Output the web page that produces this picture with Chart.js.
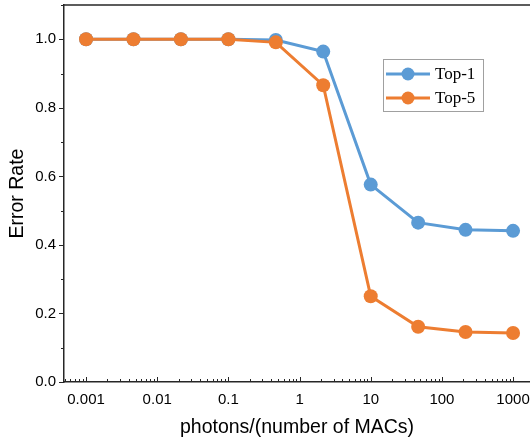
<!DOCTYPE html>
<html>
<head>
<meta charset="utf-8">
<script src="https://cdn.jsdelivr.net/npm/chart.js@4"></script>
<style>
html, body { margin: 0; padding: 0; background: #fff; }
#wrap { width: 530px; height: 442px; }
</style>
</head>
<body>
<div id="wrap"><canvas id="chart" width="530" height="442"></canvas></div>
<script>
// photons per MAC (x) and error rates
const photons = [0.001, 0.00464, 0.0215, 0.1, 0.464, 2.15, 10, 46.4, 215, 1000];
const top1 = [1.0, 1.0, 1.0, 1.0, 0.998, 0.964, 0.576, 0.465, 0.444, 0.441];
const top5 = [1.0, 1.0, 1.0, 1.0, 0.991, 0.866, 0.250, 0.161, 0.146, 0.143];
const seriesNames = ['Top-1', 'Top-5'];
const xTicks = [0.001, 0.01, 0.1, 1, 10, 100, 1000];
const yTicks = [0, 0.2, 0.4, 0.6, 0.8, 1.0];

const BLUE = '#5b9bd5';
const ORANGE = '#ed7d31';
const AXIS = '#262626';

function toPoints(ys) {
    return photons.map((x, i) => ({x: x, y: ys[i]}));
}

// ticks: x ones point into the plot, y ones point out, minor ones shorter
const tickMarks = {
    id: 'tickMarks',
    afterDraw(chart) {
        const {ctx, scales: {x, y}} = chart;
        ctx.save();
        ctx.strokeStyle = AXIS;
        ctx.lineWidth = 1;
        ctx.beginPath();
        for (let e = -4; e <= 3; e++) {
            for (let k = 1; k <= 9; k++) {
                const v = k * Math.pow(10, e);
                if (v < x.min || v > x.max) continue;
                const px = Math.round(x.getPixelForValue(v)) + 0.5;
                const len = k === 1 ? 5 : 3;
                ctx.moveTo(px, y.bottom);
                ctx.lineTo(px, y.bottom - len);
            }
        }
        for (let i = 0; i <= 11; i++) {
            const py = Math.round(y.getPixelForValue(i / 10)) + 0.5;
            const len = i % 2 === 0 ? 5 : 3;
            ctx.moveTo(x.left, py);
            ctx.lineTo(x.left - len, py);
        }
        ctx.stroke();
        // top frame line
        ctx.lineWidth = 1.5;
        ctx.beginPath();
        ctx.moveTo(x.left, y.top);
        ctx.lineTo(x.right, y.top);
        ctx.stroke();
        ctx.restore();
    }
};

// boxed legend inside the plot, like the original figure
const boxLegend = {
    id: 'boxLegend',
    afterDraw(chart) {
        const ctx = chart.ctx;
        const bx = 383, by = 59, bw = 100, bh = 52;
        ctx.save();
        ctx.fillStyle = '#fff';
        ctx.fillRect(bx, by, bw, bh);
        ctx.strokeStyle = '#a0a0a0';
        ctx.lineWidth = 1;
        ctx.strokeRect(bx + 0.5, by + 0.5, bw, bh);
        const colors = [BLUE, ORANGE];
        seriesNames.forEach((name, i) => {
            const cy = by + 15 + i * 24;
            ctx.strokeStyle = colors[i];
            ctx.lineWidth = 3;
            ctx.beginPath();
            ctx.moveTo(bx + 3, cy);
            ctx.lineTo(bx + 47, cy);
            ctx.stroke();
            ctx.fillStyle = colors[i];
            ctx.beginPath();
            ctx.arc(bx + 25, cy, 6.5, 0, Math.PI * 2);
            ctx.fill();
            ctx.fillStyle = '#000';
            ctx.font = '17px "Liberation Serif", "Times New Roman", serif';
            ctx.textBaseline = 'middle';
            ctx.fillText(name, bx + 52, cy + 1);
        });
        ctx.restore();
    }
};

const lineStyle = (color) => ({
    borderColor: color,
    backgroundColor: color,
    borderWidth: 3,
    pointRadius: 7,
    pointHoverRadius: 7,
    pointBorderWidth: 0,
    tension: 0,
});

new Chart(document.getElementById('chart'), {
    type: 'line',
    data: {
        datasets: [
            Object.assign({label: seriesNames[0], data: toPoints(top1), order: 1}, lineStyle(BLUE)),
            Object.assign({label: seriesNames[1], data: toPoints(top5), order: 0}, lineStyle(ORANGE)),
        ],
    },
    options: {
        responsive: false,
        animation: false,
        layout: {autoPadding: false, padding: {top: 5, right: 0, left: 0, bottom: 0}},
        plugins: {
            legend: {display: false},
            tooltip: {enabled: false},
        },
        scales: {
            x: {
                type: 'logarithmic',
                min: 0.00049,
                max: 1730,
                grid: {display: false, drawTicks: false},
                border: {display: true, color: AXIS, width: 1.5},
                afterBuildTicks: (scale) => {
                    scale.ticks = xTicks.map(v => ({value: v}));
                },
                afterFit: (scale) => {
                    scale.height = 60;
                    scale.paddingLeft = 0;
                    scale.paddingRight = 0;
                },
                ticks: {
                    color: '#000',
                    padding: 9,
                    maxRotation: 0,
                    autoSkip: false,
                    font: {family: '"Liberation Sans", Arial, sans-serif', size: 15},
                    callback: (v) => String(v),
                },
                title: {
                    display: true,
                    text: 'photons/(number of MACs)',
                    color: '#000',
                    padding: {top: 0, bottom: 3},
                    font: {family: '"Liberation Sans", Arial, sans-serif', size: 19.5},
                },
            },
            y: {
                min: 0,
                max: 1.1,
                grid: {display: false, drawTicks: false},
                border: {display: true, color: AXIS, width: 1.5},
                afterBuildTicks: (scale) => {
                    scale.ticks = yTicks.map(v => ({value: v}));
                },
                afterFit: (scale) => {
                    scale.width = 64;
                    scale.paddingTop = 0;
                    scale.paddingBottom = 0;
                },
                ticks: {
                    color: '#000',
                    padding: 8,
                    font: {family: '"Liberation Sans", Arial, sans-serif', size: 15},
                    callback: (v) => v.toFixed(1),
                },
                title: {
                    display: true,
                    text: 'Error Rate',
                    color: '#000',
                    padding: {top: 6, bottom: 0},
                    font: {family: '"Liberation Sans", Arial, sans-serif', size: 19.5},
                },
            },
        },
    },
    plugins: [tickMarks, boxLegend],
});
</script>
</body>
</html>
